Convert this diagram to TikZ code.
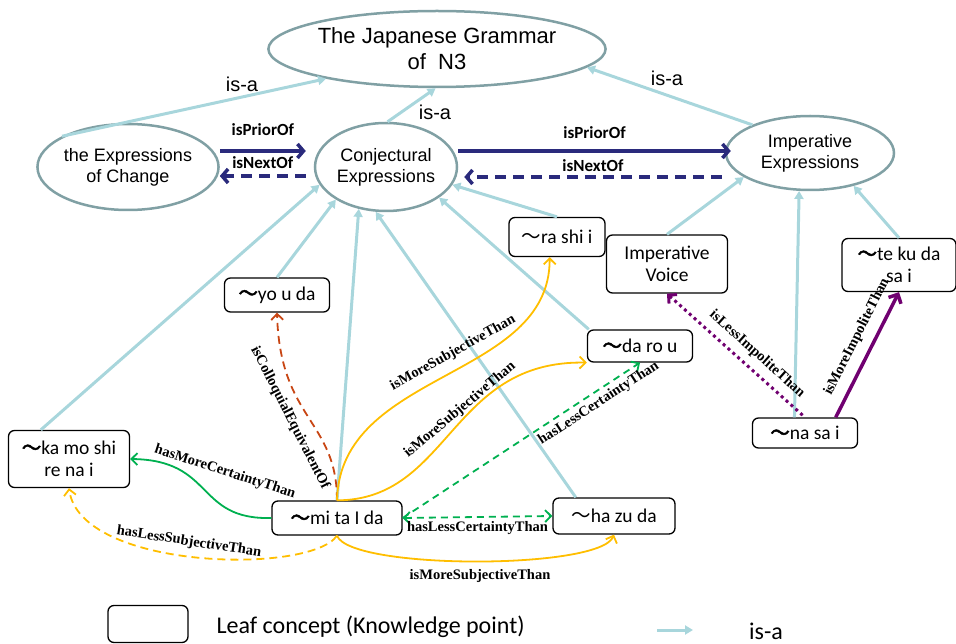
\documentclass[tikz,border=0pt]{standalone}
\usepackage{fontspec}
\usepackage{tikz}
\usetikzlibrary{shapes,arrows}
\usetikzlibrary{arrows.meta}

\newfontfamily\ellfont{Liberation Sans}
\newfontfamily\leaffont{Carlito}
\newfontfamily\relfont{Liberation Serif}
\newfontfamily\cjk{Noto Sans CJK JP}
\newfontfamily\cjkbold[FakeBold=2.5]{Noto Sans CJK JP}
\newcommand{\topsize}{\fontsize{22pt}{26pt}\selectfont}
\newcommand{\ellsize}{\fontsize{18pt}{21pt}\selectfont}
\newcommand{\leafsize}{\fontsize{19.5pt}{22pt}\selectfont}
\newcommand{\isasize}{\fontsize{20pt}{22pt}\selectfont}
\newcommand{\ordersize}{\fontsize{17pt}{19pt}\selectfont}
\newcommand{\legsize}{\fontsize{24pt}{26pt}\selectfont}
\newcommand{\rellabfont}{\relfont\fontsize{14.5pt}{16pt}\selectfont\bfseries}
\newcommand{\boldtil}{{\cjkbold ～}}
\newcommand{\thintil}{{\cjk ～}}

\definecolor{ellgray}{RGB}{128,160,164}
\definecolor{isablue}{RGB}{168,214,220}
\definecolor{navy}{RGB}{42,42,124}
\definecolor{certgreen}{RGB}{0,176,80}
\definecolor{subjgold}{RGB}{255,190,0}
\definecolor{colloqred}{RGB}{200,70,20}
\definecolor{impurple}{RGB}{112,0,112}

\begin{document}
\begin{tikzpicture}[x=1pt,y=-1pt,
	concept/.style={ellipse, draw=ellgray, line width=2.5pt, fill=white, align=center, inner sep=0pt, font=\ellfont\ellsize},
	leaf/.style={rectangle, rounded corners=6pt, draw, line width=1.3pt, fill=white, align=center, inner sep=1pt, font=\leaffont\leafsize},
	isa/.style={isablue, line width=3pt, -{Triangle[length=8pt,width=9pt]}},
	isalabel/.style={font=\ellfont\isasize, inner sep=1pt},
	order/.style={navy, line width=3.5pt, >={Straight Barb[length=6pt,width=14pt]}},
	orderlabel/.style={font=\leaffont\ordersize\bfseries, text=black, inner sep=1pt},
	rel/.style={line width=1.8pt},
	rellabel/.style={font=\rellabfont, text=black, inner sep=1pt},
	>={Straight Barb[length=6pt,width=12pt]}
	]
	
	\useasboundingbox (0,0) rectangle (956,644);
	
	% Draw upper concepts
	\node[concept, minimum width=260pt, minimum height=76pt, font=\ellfont\topsize] (grammar) at (437,49) {The Japanese Grammar\\of~~N3};
	\node[concept, minimum width=176pt, minimum height=86pt] (change) at (128,167) {the Expressions\\of Change};
	\node[concept, minimum width=142pt, minimum height=88pt] (conj) at (386,167) {Conjectural\\Expressions};
	\node[concept, minimum width=168pt, minimum height=74pt] (imper) at (810,153) {Imperative\\Expressions};
	
	% Draw leaf concepts
	\node[leaf, minimum width=121pt, minimum height=57pt] (kamo) at (69,459) {\boldtil ka mo shi\\re na i};
	\node[leaf, minimum width=130pt, minimum height=34pt] (mita) at (337,518) {\boldtil mi ta I da};
	\node[leaf, minimum width=122pt, minimum height=36pt] (hazu) at (614,516) {\thintil ha zu da};
	\node[leaf, minimum width=105pt, minimum height=32pt] (daro) at (640,346) {\boldtil da ro u};
	\node[leaf, minimum width=96pt, minimum height=39pt] (rashi) at (557,237) {\thintil ra shi i};
	\node[leaf, minimum width=105pt, minimum height=34pt] (youda) at (277,295) {\boldtil yo u da};
	\node[leaf, minimum width=121pt, minimum height=58pt] (voice) at (667,264) {Imperative\\Voice};
	\node[leaf, minimum width=114pt, minimum height=53pt] (tekuda) at (899,265) {\boldtil te ku da\\sa i};
	\node[leaf, minimum width=105pt, minimum height=30pt] (nasai) at (805,433) {\boldtil na sa i};
	
	% Draw is-a links
	\draw[isa] (change.155) -- (grammar.195);
	\draw[isa] (conj.88) -- (grammar.268);
	\draw[isa] (imper.154) -- (grammar.353);
	\draw[isa] (kamo.134) -- (conj.195);
	\draw[isa] (youda.north) -- (conj.213);
	\draw[isa] (mita.north) -- (conj.237);
	\draw[isa] (hazu.154) -- (conj.257);
	\draw[isa] (daro.162) -- (conj.330);
	\draw[isa] (rashi.north) -- (conj.345);
	\draw[isa] (voice.north) -- (imper.200);
	\draw[isa] (nasai.124) -- (imper.254);
	\draw[isa] (tekuda.north) -- (imper.323);
	\node[isalabel] (isachange) at (242,84) {is-a};
	\node[isalabel] (isaconj) at (435,112) {is-a};
	\node[isalabel] (isaimper) at (667,78) {is-a};
	
	% Draw order links
	\draw[order, ->] ([yshift=16pt]change.east) -- ([yshift=16pt,xshift=-8pt]conj.west) node[orderlabel, midway, above=13pt] (prior1) {isPriorOf};
	\draw[order, ->, dash pattern=on 11pt off 7pt] ([yshift=-9pt,xshift=-8pt]conj.west) -- ([yshift=-9pt]change.east) node[orderlabel, midway, above=5pt] (next1) {isNextOf};
	\draw[order, ->] ([yshift=16pt]conj.east) -- ([yshift=2pt,xshift=6pt]imper.west) node[orderlabel, midway, above=10pt] (prior2) {isPriorOf};
	\draw[order, ->, dash pattern=on 11pt off 7pt] ([yshift=-24pt,xshift=-3pt]imper.west) -- ([yshift=-10pt,xshift=6pt]conj.east) node[orderlabel, midway, above=3pt] (next2) {isNextOf};
	
	% Draw relations of mi ta I da
	\draw[rel, certgreen, ->] (mita.west) .. controls (195,520) and (215,460) .. (kamo.east);
	\node[rellabel, rotate=-18] (morecert) at (225,472) {hasMoreCertaintyThan};
	\draw[rel, subjgold, ->, dash pattern=on 8pt off 5pt] (mita.south) .. controls (310,575) and (80,570) .. (kamo.south);
	\node[rellabel, rotate=-8.6] (lesssubj) at (189,542) {hasLessSubjectiveThan};
	\draw[rel, subjgold, ->] (mita.south) .. controls (350,570) and (600,570) .. (hazu.south);
	\node[rellabel] (moresubj1) at (480,576) {isMoreSubjectiveThan};
	\draw[rel, colloqred, ->, dash pattern=on 8pt off 5pt] (mita.north) .. controls (337,420) and (280,420) .. (youda.south);
	\node[rellabel, rotate=-63] (colloq) at (290,418) {isColloquialEquivalentOf};
	\draw[rel, subjgold, ->] (mita.north) .. controls (340,370) and (550,380) .. (rashi.250);
	\node[rellabel, rotate=29] (moresubj2) at (453,353) {isMoreSubjectiveThan};
	\draw[rel, subjgold, ->] (mita.north) .. controls (450,500) and (450,360) .. (daro.south west);
	\node[rellabel, rotate=40] (moresubj3) at (460,410) {isMoreSubjectiveThan};
	\draw[rel, certgreen, ->, dash pattern=on 7pt off 5pt] (mita.east) -- (daro.south) node[rellabel, sloped, pos=.8, below=3pt] (lesscert1) {hasLessCertaintyThan};
	\draw[rel, certgreen, <->, dash pattern=on 7pt off 5pt] (mita.east) -- (hazu.west) node[rellabel, midway, below=3pt] (lesscert2) {hasLessCertaintyThan};
	
	% Draw relations of na sa i
	\draw[impurple, line width=3pt, <-, dash pattern=on 3pt off 3.5pt] (voice.south) -- (nasai.north) node[rellabel, sloped, pos=.58, above=6pt] (lessimp) {isLessImpoliteThan};
	\draw[impurple, line width=3.5pt, >={Straight Barb[length=7pt,width=14pt]}, ->] (nasai.27) -- (tekuda.south) node[rellabel, sloped, pos=.58, above=8pt] (moreimp) {isMoreImpoliteThan};
	
	% Draw legend
	\node[leaf, minimum width=80pt, minimum height=37pt] (legbox) at (148,624) {};
	\node[anchor=west, font=\leaffont\legsize] (legtext) at (213,627) {Leaf concept (Knowledge point)};
	\coordinate (legfrom) at (657,630);
	\coordinate (legto) at (693,630);
	\draw[isa] (legfrom) -- (legto);
	\node[font=\leaffont\legsize] (legisa) at (766,631) {is-a};
	
\end{tikzpicture}
\end{document}
